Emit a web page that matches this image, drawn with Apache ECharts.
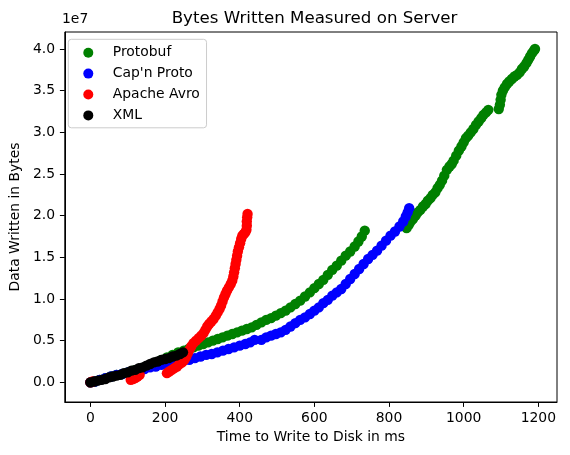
<!DOCTYPE html>
<html>
<head>
<meta charset="utf-8">
<script src="https://cdn.jsdelivr.net/npm/echarts@6/dist/echarts.min.js"></script>
<style>
  html, body { margin: 0; padding: 0; background: #fff; }
  #chart { width: 570px; height: 455px; }
</style>
</head>
<body>
<div id="chart"></div>
<script>
// values; y values in units of 1e7 bytes
const protobufX = [0, 12, 25, 40, 55, 70, 85, 100, 115, 130, 145, 160, 175, 190, 205, 220, 235, 250,
  263, 276, 289, 302, 315, 328, 341, 354, 367, 380, 393, 406, 419, 432, 445, 458, 471, 484, 497, 510,
  523, 536, 549, 562, 575, 588, 600, 612, 624, 636, 648, 660, 672, 684, 696, 708, 718, 727, 735,
  847, 853, 858, 864, 871, 877, 884, 891, 898, 904, 911, 917, 924, 930, 936, 942, 948, 955, 962, 968,
  973, 980, 987, 994, 1000, 1006, 1012, 1019, 1026, 1033, 1040, 1047, 1053, 1060, 1066,
  1094, 1097, 1099, 1101, 1105, 1110, 1116, 1122, 1129, 1136, 1143, 1150, 1156, 1162, 1168, 1173,
  1178, 1183, 1188, 1191];
const protobufY = [0, 0.01, 0.03, 0.05, 0.07, 0.09, 0.10, 0.12, 0.14, 0.16, 0.18, 0.21, 0.24, 0.27, 0.30, 0.33, 0.36, 0.38,
  0.40, 0.42, 0.44, 0.46, 0.48, 0.50, 0.52, 0.54, 0.56, 0.58, 0.60, 0.62, 0.64, 0.66, 0.69, 0.72, 0.75, 0.77, 0.80, 0.83,
  0.86, 0.90, 0.94, 0.98, 1.03, 1.08, 1.13, 1.18, 1.23, 1.29, 1.35, 1.40, 1.46, 1.52, 1.57, 1.63, 1.69, 1.75, 1.82,
  1.85, 1.89, 1.93, 1.96, 2.00, 2.04, 2.07, 2.11, 2.14, 2.18, 2.21, 2.25, 2.28, 2.33, 2.37, 2.42, 2.48, 2.55, 2.59, 2.62,
  2.66, 2.72, 2.78, 2.83, 2.88, 2.93, 2.96, 3.00, 3.04, 3.09, 3.13, 3.17, 3.21, 3.24, 3.27,
  3.28, 3.33, 3.39, 3.45, 3.50, 3.54, 3.58, 3.61, 3.64, 3.67, 3.69, 3.72, 3.76, 3.79, 3.83, 3.87,
  3.91, 3.95, 3.98, 4.00];

const capnpX = [0, 12, 25, 40, 55, 70, 85, 100, 115, 130, 145, 160, 175, 190, 205, 220, 235, 250,
  265, 280, 295, 310, 325, 340, 355, 370, 385, 400, 415, 428, 440,
  458, 471, 484, 497, 510, 523, 536, 549, 562, 575, 588, 600, 612, 624, 636, 648, 660, 672, 684,
  696, 708, 720, 732, 744, 756, 768, 780, 792, 804, 816, 828, 838, 845, 850, 854];
const capnpY = [0, 0.01, 0.03, 0.05, 0.07, 0.09, 0.10, 0.12, 0.13, 0.15, 0.16, 0.18, 0.19, 0.21, 0.22, 0.23, 0.25, 0.26,
  0.27, 0.29, 0.31, 0.33, 0.34, 0.36, 0.38, 0.40, 0.42, 0.44, 0.46, 0.48, 0.51,
  0.51, 0.54, 0.56, 0.58, 0.60, 0.63, 0.67, 0.71, 0.75, 0.78, 0.82, 0.86, 0.90, 0.95, 0.99, 1.04, 1.08, 1.12, 1.18,
  1.24, 1.30, 1.36, 1.42, 1.48, 1.53, 1.58, 1.64, 1.70, 1.76, 1.81, 1.87, 1.93, 1.99, 2.04, 2.09];

const avroX = [0, 3, 6, 108, 114, 120, 126, 132,
  205, 211, 218, 225, 232, 239, 246, 252, 257, 261, 265, 270, 276, 283, 290, 297, 303, 308, 313, 318,
  324, 330, 336, 341, 346, 350, 354, 358, 362, 366, 371, 376, 380, 383, 385, 387, 389, 391, 393, 395,
  398, 401, 404, 407, 411, 415, 418, 419, 419, 420, 421];
const avroY = [0, 0.005, 0.01, 0.03, 0.04, 0.05, 0.07, 0.09,
  0.11, 0.13, 0.15, 0.17, 0.19, 0.22, 0.24, 0.27, 0.31, 0.35, 0.39, 0.43, 0.47, 0.50, 0.53, 0.56, 0.59, 0.63, 0.67, 0.70,
  0.73, 0.76, 0.80, 0.84, 0.88, 0.92, 0.97, 1.02, 1.06, 1.10, 1.14, 1.18, 1.22, 1.27, 1.32, 1.37, 1.42, 1.47, 1.52, 1.57,
  1.62, 1.67, 1.72, 1.76, 1.78, 1.80, 1.83, 1.88, 1.93, 1.98, 2.02];

const xmlX = [0, 10, 20, 30, 40, 50, 60, 70, 80, 90, 100, 110, 120, 130, 140, 150, 160, 170, 180, 190,
  200, 210, 220, 230, 240, 248];
const xmlY = [0, 0.01, 0.02, 0.03, 0.04, 0.06, 0.07, 0.08, 0.09, 0.11, 0.12, 0.14, 0.15, 0.17, 0.18, 0.20, 0.22, 0.24, 0.25, 0.27,
  0.28, 0.29, 0.31, 0.32, 0.34, 0.36];

const seriesNames = ['Protobuf', "Cap'n Proto", 'Apache Avro', 'XML'];
const seriesColors = ['#008000', '#0000ff', '#ff0000', '#000000'];
const xTicks = [0, 200, 400, 600, 800, 1000, 1200];
const yTicks = [0, 0.5e7, 1.0e7, 1.5e7, 2.0e7, 2.5e7, 3.0e7, 3.5e7, 4.0e7];

const FONT = 'DejaVu Sans';

const pairs = (xs, ys) => xs.map((x, i) => [x, ys[i] * 1e7]);
const allData = [pairs(protobufX, protobufY), pairs(capnpX, capnpY), pairs(avroX, avroY), pairs(xmlX, xmlY)];

const chart = echarts.init(document.getElementById('chart'), null, { renderer: 'canvas' });

chart.setOption({
  animation: false,
  backgroundColor: '#fff',
  textStyle: { fontFamily: FONT },
  title: {
    text: 'Bytes Written Measured on Server',
    left: 309.5,
    textAlign: 'center',
    top: 5,
    textStyle: { fontFamily: FONT, fontSize: 16.67, fontWeight: 'normal', color: '#000' }
  },
  graphic: [{
    type: 'text',
    left: 62,
    top: 12,
    style: { text: '1e7', font: '13.9px "DejaVu Sans"', fill: '#000' }
  }],
  legend: {
    orient: 'vertical',
    left: 68.3,
    top: 39.3,
    padding: [6.4, 6.7, 5.4, 15],
    itemGap: 6.9,
    itemWidth: 39,
    itemHeight: 10,
    icon: 'circle',
    borderColor: '#cccccc',
    borderWidth: 1,
    borderRadius: 3,
    backgroundColor: 'rgba(255,255,255,0.8)',
    textStyle: { fontFamily: FONT, fontSize: 13.9, color: '#000', lineHeight: 14 },
    data: seriesNames
  },
  grid: {
    left: 62,
    right: 13,
    top: 32,
    bottom: 53,
    show: true,
    borderColor: '#000',
    borderWidth: 1
  },
  xAxis: {
    type: 'value',
    min: -68.6,
    max: 1250,
    name: 'Time to Write to Disk in ms',
    nameLocation: 'middle',
    nameGap: 28,
    nameTextStyle: { fontFamily: FONT, fontSize: 13.9, color: '#000' },
    axisLine: { onZero: false, lineStyle: { color: '#000', width: 1 } },
    axisTick: { show: true, length: 4.9, lineStyle: { color: '#000' }, customValues: xTicks },
    axisLabel: {
      margin: 9.8, fontFamily: FONT, fontSize: 13.9, color: '#000', customValues: xTicks,
      formatter: v => String(v)
    },
    splitLine: { show: false }
  },
  yAxis: {
    type: 'value',
    min: -2.36e6,
    max: 4.204e7,
    name: 'Data Written in Bytes',
    nameLocation: 'middle',
    nameGap: 36,
    nameRotate: 90,
    nameTextStyle: { fontFamily: FONT, fontSize: 13.9, color: '#000' },
    axisLine: { onZero: false, lineStyle: { color: '#000', width: 1 } },
    axisTick: { show: true, length: 4.9, lineStyle: { color: '#000' }, customValues: yTicks },
    axisLabel: {
      margin: 9.8, fontFamily: FONT, fontSize: 13.9, color: '#000', customValues: yTicks,
      formatter: v => (v / 1e7).toFixed(1)
    },
    splitLine: { show: false }
  },
  series: seriesNames.map((name, i) => ({
    name: name,
    type: 'scatter',
    symbol: 'circle',
    symbolSize: 10.4,
    itemStyle: { color: seriesColors[i], opacity: 1 },
    emphasis: { disabled: true },
    data: allData[i]
  }))
});
</script>
</body>
</html>
